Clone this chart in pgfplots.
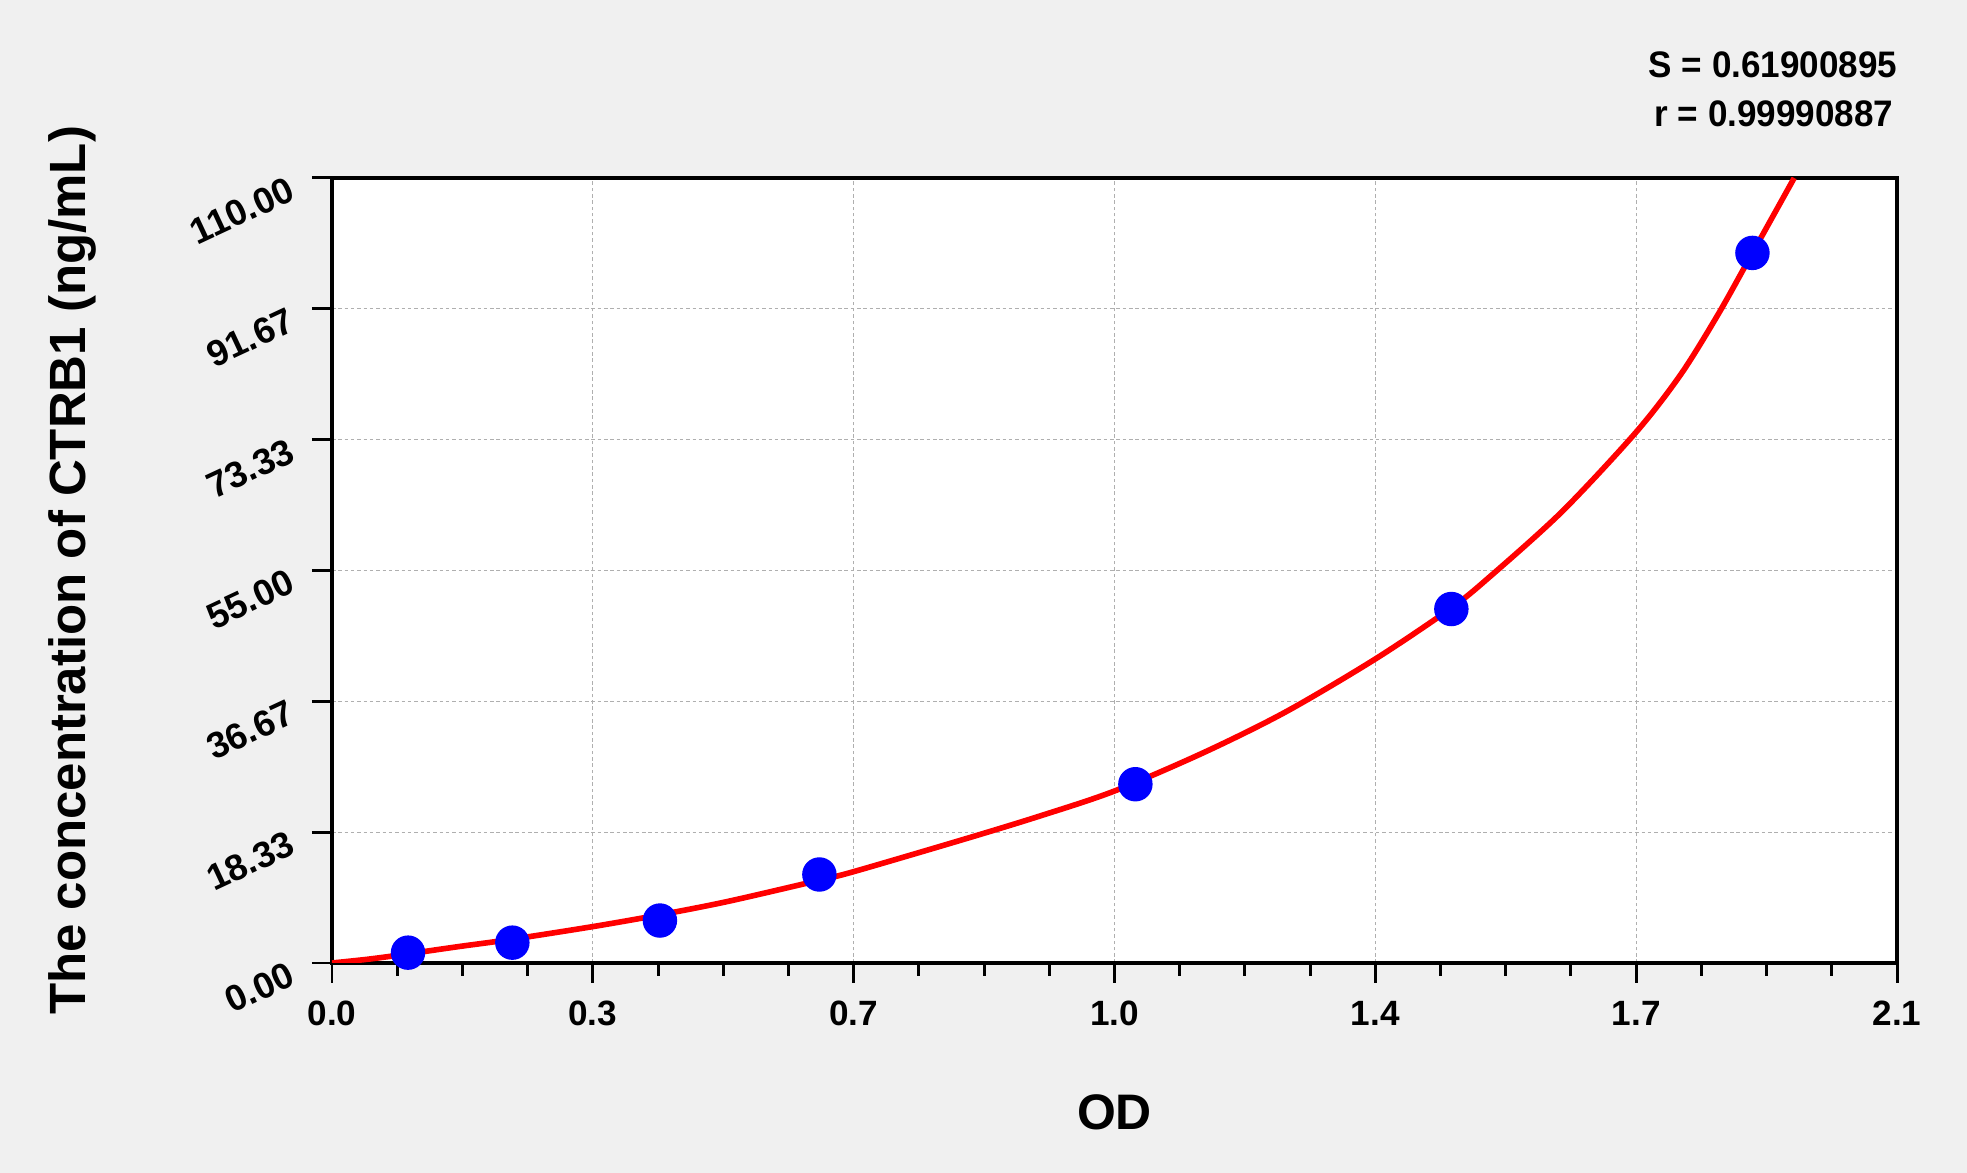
\documentclass[border=0pt]{standalone}
\usepackage{pgfplots}
\pgfplotsset{compat=1.18}
\usepackage{fontspec}
\setmainfont{Liberation Sans}
\newfontfamily\narrowfont[FakeStretch=0.95]{Liberation Sans}
\definecolor{bggray}{HTML}{F0F0F0}
\definecolor{gridgray}{HTML}{AFAFAF}

\begin{document}
\begin{tikzpicture}
% page background (1 px = 0.01 cm)
\fill[bggray] (-3.32,-2.10) rectangle (16.35,9.63);
\begin{axis}[
    at={(0,0)}, anchor=south west,
    scale only axis,
    width=15.65cm, height=7.85cm,
    axis background/.style={fill=white},
    axis line style={line width=1.1pt},
    xmin=0, xmax=2.1, ymin=0, ymax=110,
    xtick={0,0.35,0.7,1.05,1.4,1.75,2.1},
    xticklabels={0.0,0.3,0.7,1.0,1.4,1.7,2.1},
    ytick={0,18.3333,36.6667,55,73.3333,91.6667,110},
    yticklabels={0.00,18.33,36.67,55.00,73.33,91.67,110.00},
    minor x tick num=3, minor y tick num=3,
    tick pos=left, tick align=outside,
    major tick length=0.2cm, minor tick length=0.13cm,
    tick style={line width=0.85pt, black},
    xmajorgrids, ymajorgrids,
    major grid style={gridgray, line width=0.35pt, dash pattern=on 1pt off 0.8pt},
    ticklabel style={font=\fontsize{10}{12}\selectfont\bfseries},
    xticklabel style={yshift=-0.06cm},
    yticklabel style={rotate=25, anchor=east, xshift=-0.1cm,
        font=\fontsize{10.4}{12}\selectfont\bfseries},
    xlabel={OD},
    ylabel={The concentration of CTRB1 (ng/mL)},
    xlabel style={font=\fontsize{14.2}{16}\selectfont\bfseries,
        at={(axis description cs:0.5,0)}, anchor=center, yshift=-1.49cm},
    ylabel style={font=\fontsize{14.5}{16}\selectfont\bfseries,
        at={(axis description cs:0,0.5)}, anchor=center, yshift=2.60cm},
]
% standards
\addplot[only marks, mark=*, mark size=4.7pt, blue, mark options={draw=blue, fill=blue}]
coordinates {
    (0.102,1.45) (0.242,2.85) (0.440,5.95) (0.654,12.4)
    (1.078,25.05) (1.502,49.6) (1.906,99.5)
};
% fitted curve
\addplot[red, line width=1.6pt, smooth] coordinates {
    (0,0) (0.05,0.55) (0.10,1.25) (0.17,2.3) (0.24,3.3) (0.35,5.1)
    (0.44,6.75) (0.53,8.6) (0.65,11.5) (0.70,12.8) (0.85,17.4)
    (0.95,20.6) (1.05,24.1) (1.17,29.5) (1.28,35.2) (1.40,42.6)
    (1.50,49.6) (1.55,53.8) (1.65,63.2) (1.75,74.4) (1.81,82.5)
    (1.86,90.9) (1.905,99.3) (1.962,110)
};
\end{axis}
\node[anchor=base east, font=\fontsize{10.5}{12}\narrowfont\bfseries, inner sep=0pt]
    at (15.66,8.85) {S = 0.61900895};
\node[anchor=base east, font=\fontsize{10.5}{12}\narrowfont\bfseries, inner sep=0pt]
    at (15.62,8.36) {r = 0.99990887};
\pgfresetboundingbox
\path[use as bounding box] (-3.32,-2.10) rectangle (16.35,9.63);
\end{tikzpicture}
\end{document}
